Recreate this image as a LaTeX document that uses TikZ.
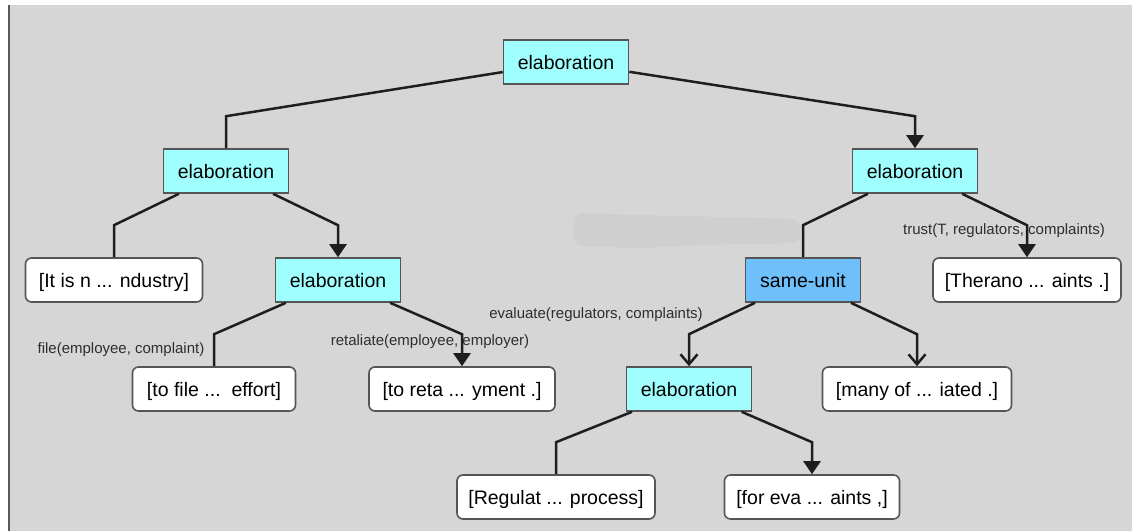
\documentclass[tikz,border=0pt]{standalone}
\usepackage{fontspec}
\setmainfont{Liberation Sans}
\usetikzlibrary{arrows.meta,calc}

\definecolor{canvas}{HTML}{D6D6D6}
\definecolor{smear}{HTML}{CFCFCF}
\definecolor{frameline}{HTML}{5A5A5A}
\definecolor{boxline}{HTML}{555555}
\definecolor{linkcol}{HTML}{1E1E1E}
\definecolor{relcyan}{HTML}{A0FFFE}
\definecolor{relblue}{HTML}{6FC0FA}
\definecolor{predgray}{HTML}{2E2E2E}

\begin{document}
\begin{tikzpicture}[x=1pt,y=-1pt,
  relbox/.style={draw=boxline, line width=1.6pt, fill=relcyan,
    minimum height=44pt, minimum width=125pt, inner sep=0pt,
    text height=15.5pt, text depth=0pt,
    font=\fontsize{19.5}{21}\selectfont, text=black},
  unitbox/.style={relbox, fill=relblue, minimum width=115pt},
  edubox/.style={draw=boxline, line width=1.6pt, fill=white,
    rounded corners=6pt, minimum height=44pt, minimum width=#1,
    inner sep=0pt, text height=15.5pt, text depth=0pt,
    font=\fontsize{19.5}{21}\selectfont, text=black},
  link/.style={draw=linkcol, line width=2.5pt},
  tiplink/.style={link, -{Triangle[length=13pt,width=17pt]}},
  barblink/.style={link, -{Straight Barb[length=10pt,width=17pt,line width=2.5pt]}},
  pred/.style={font=\fontsize{15}{17}\selectfont, text=predgray, inner sep=0pt}
]
% page and canvas
\useasboundingbox (0,0) rectangle (1132,531);
\fill[white] (0,0) rectangle (1132,531);
\fill[canvas] (9,5) rectangle (1132,531);
\draw[frameline, line width=2pt] (8.5,5) -- (8.5,531);

% faint smear across the canvas
\fill[smear, rounded corners=9pt]
  (574,213) -- (640,215) -- (800,219) -- (800,243) -- (700,245)
  -- (640,248) -- (574,246) -- cycle;

% relation nodes
\node[relbox]  (root) at (566,62)  {elaboration};
\node[relbox]  (el1)  at (226,171) {elaboration};
\node[relbox]  (er1)  at (915,171) {elaboration};
\node[relbox]  (el2)  at (338,280) {elaboration};
\node[unitbox] (su)   at (803,280) {same-unit};
\node[relbox]  (eb)   at (689,389) {elaboration};

% text spans
\node[edubox=177pt] (s1) at (114,280)  {[It is n ... ndustry]};
\node[edubox=188pt] (s2) at (1027,280) {[Therano ... aints .]};
\node[edubox=163pt] (s3) at (214,389)  {[to file ...\ \ effort]};
\node[edubox=186pt] (s4) at (462,389)  {[to reta ... yment .]};
\node[edubox=189pt] (s5) at (917,389)  {[many of ... iated .]};
\node[edubox=198pt] (s6) at (556,497)  {[Regulat ... process]};
\node[edubox=175pt] (s7) at (812,497)  {[for eva ... aints ,]};

% connectors: from parent down to an elbow above the child, then straight in
\draw[link]     (root) -- ($(el1.north)+(0,-32)$) -- (el1.north);
\draw[tiplink]  (root) -- ($(er1.north)+(0,-32)$) -- (er1.north);
\draw[link]     (el1)  -- ($(s1.north)+(0,-32)$)  -- (s1.north);
\draw[tiplink]  (el1)  -- ($(el2.north)+(0,-32)$) -- (el2.north);
\draw[link]     (el2)  -- ($(s3.north)+(0,-32)$)  -- (s3.north);
\draw[tiplink]  (el2)  -- ($(s4.north)+(0,-32)$)  -- (s4.north);
\draw[link]     (er1)  -- ($(su.north)+(0,-32)$)  -- (su.north);
\draw[tiplink]  (er1)  -- ($(s2.north)+(0,-32)$)  -- (s2.north);
\draw[barblink] (su)   -- ($(eb.north)+(0,-32)$)  -- (eb.north);
\draw[barblink] (su)   -- ($(s5.north)+(0,-32)$)  -- (s5.north);
\draw[link]     (eb)   -- ($(s6.north)+(0,-32)$)  -- (s6.north);
\draw[tiplink]  (eb)   -- ($(s7.north)+(0,-32)$)  -- (s7.north);

% predicate labels
\node[pred] (p1) at (121,350)  {file(employee, complaint)};
\node[pred] (p2) at (430,342)  {retaliate(employee, employer)};
\node[pred] (p3) at (596,315)  {evaluate(regulators, complaints)};
\node[pred] (p4) at (1004,231) {trust(T, regulators, complaints)};
\end{tikzpicture}
\end{document}
